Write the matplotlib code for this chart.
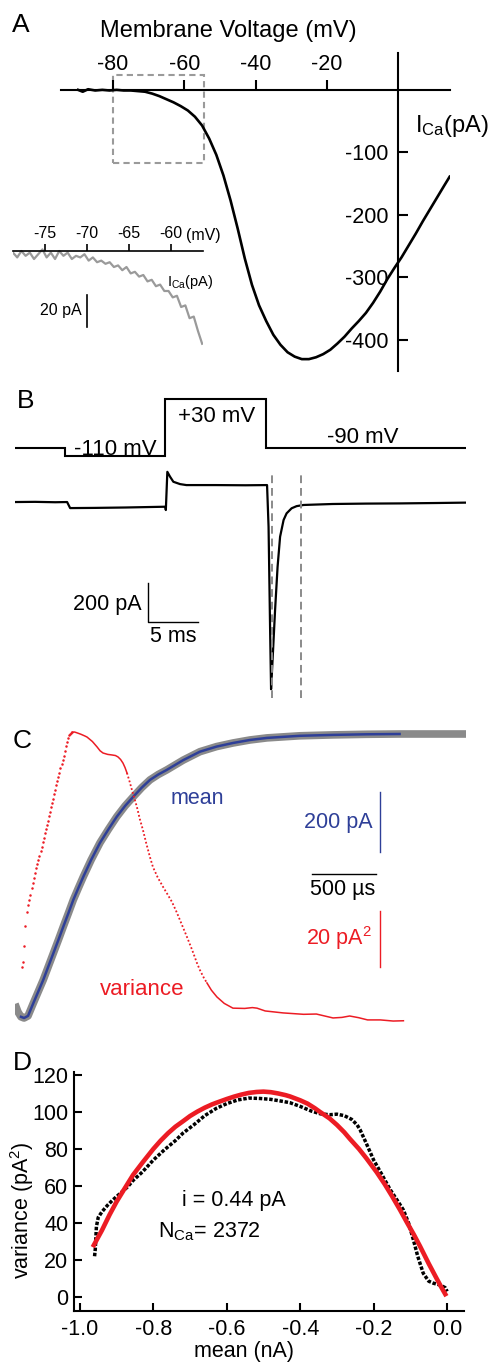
import numpy as np
import matplotlib.pyplot as plt
from matplotlib.patches import Rectangle

plt.rcParams['font.family'] = ['Liberation Sans', 'DejaVu Sans']
plt.rcParams['mathtext.fontset'] = 'custom'
plt.rcParams['mathtext.rm'] = 'Liberation Sans'
plt.rcParams['mathtext.it'] = 'Liberation Sans:italic'
plt.rcParams['axes.unicode_minus'] = False

# ---------------- A: I-V relation ----------------
iv_mv = [-89.8, -88.5, -87, -85, -83, -81, -79, -77, -75, -73, -71, -69, -67, -65,
         -63, -61, -59, -57, -55, -53, -51, -49, -47, -45, -43, -41, -39, -37, -35,
         -33, -31, -29, -27, -25, -23, -21, -19, -17, -15, -13, -11, -9, -7, -5, -3,
         -1, 1, 3, 5, 7, 9, 11, 13, 14.5]
iv_pa = [0, -3, 1, -1, 0, -1, 0, -1, -1, -2, -3, -6, -10, -15,
         -20, -26, -33, -43, -57, -78, -104, -137, -177, -222, -270, -312, -345, -370, -392,
         -408, -420, -427, -431, -431, -428, -423, -416, -406, -395, -382, -370, -357, -341, -323, -303,
         -285, -268, -249, -230, -210, -191, -172, -153, -139]
iv_ticks_mv = [-80, -60, -40, -20]
iv_ticks_pa = [-100, -200, -300, -400]

# inset: foot of the curve, raw trace
foot_mv = [-78.8, -78.3, -77.8, -77.3, -76.8, -76.3, -75.8, -75.3, -74.8, -74.3, -73.8, -73.3,
           -72.8, -72.3, -71.8, -71.3, -70.8, -70.3, -69.8, -69.3, -68.8, -68.3, -67.8, -67.3,
           -66.8, -66.3, -65.8, -65.3, -64.8, -64.3, -63.8, -63.3, -62.8, -62.3, -61.8, -61.3,
           -60.8, -60.3, -59.8, -59.3, -58.8, -58.3, -57.8, -57.3, -56.8, -56.3]
foot_pa = [-1, -4, 0, -3, -1, -5, -2, 1, -4, -1, -5, 0,
           -3, -1, -5, -3, -4, -2, -6, -4, -7, -6, -8, -7,
           -10, -9, -12, -10, -14, -13, -16, -15, -19, -18, -22, -21,
           -25, -25, -29, -28, -35, -34, -42, -41, -50, -58]
foot_ticks_mv = [-75, -70, -65, -60]
zoom_mv = (-80, -54.5)
zoom_pa = (-117, 24)

# ---------------- B: protocol and current ----------------
step_edges_ms = [0, 5, 15, 25, 45]
step_mv = [-90, -110, 30, -90]
trace_ms = [0, 2, 4, 5.2, 5.5, 8, 11, 14, 15.0, 15.05, 15.2, 15.47, 15.8, 16.47, 17.1, 20,
            23, 25.15, 25.3, 25.45, 25.55, 25.7, 25.95, 26.2, 26.45, 26.8, 27.1, 27.6, 28.1,
            28.8, 31.7, 35, 38.4, 42, 45]
trace_pa = [0, 1, -1, 0, -31, -30, -28, -25, -24, -41, 155, 130, 104, 92, 87, 87,
            86, 87, -127, -640, -960, -810, -554, -332, -178, -92, -58, -32, -21,
            -15, -10, -8, -7, -5, -3]
window_ms = [25.65, 28.54]

# ---------------- C: mean and variance ----------------
mean_ms = [-0.055, -0.031, -0.008, 0.016, 0.047, 0.088, 0.127, 0.166, 0.205, 0.245, 0.284,
           0.323, 0.362, 0.401, 0.44, 0.479, 0.54, 0.609, 0.675, 0.74, 0.805, 0.87, 0.935,
           1.0, 1.065, 1.13, 1.26, 1.39, 1.52, 1.648, 1.78, 1.914, 2.17, 2.43, 2.69, 2.95,
           3.2, 3.47]
mean_pa = [-900, -927, -943, -947, -940, -898, -859, -820, -776, -731, -687,
           -642, -598, -553, -514, -476, -420, -363, -318, -276, -240, -209, -179,
           -153, -135, -120, -87, -59, -42, -30, -20, -13, -6, -3, -1, 0,
           0, 0]
var_ms = [-0.002, 0.005, 0.016, 0.026, 0.037, 0.045, 0.055, 0.062, 0.076, 0.084, 0.094,
          0.104, 0.112, 0.120, 0.128, 0.136, 0.145, 0.153, 0.161, 0.169, 0.177, 0.186,
          0.194, 0.202, 0.210, 0.218, 0.227, 0.235, 0.243, 0.251, 0.259, 0.268, 0.276,
          0.284, 0.292, 0.300, 0.309, 0.317, 0.325, 0.333, 0.342, 0.350, 0.358, 0.366,
          0.374, 0.383, 0.391,
          0.41, 0.43, 0.46, 0.49, 0.508, 0.55, 0.586, 0.61, 0.633, 0.67, 0.703, 0.73,
          0.75, 0.77, 0.789, 0.805, 0.82,
          0.84, 0.859, 0.88, 0.898, 0.92, 0.945, 0.97, 1.0, 1.023, 1.06, 1.102, 1.14,
          1.172, 1.211, 1.25, 1.289, 1.33, 1.367, 1.39, 1.42, 1.445,
          1.48, 1.523, 1.58, 1.648, 1.74, 1.80, 1.836, 1.9, 2.04, 2.2, 2.3, 2.43, 2.5,
          2.56, 2.63, 2.70, 2.8, 2.9, 2.98]
var_pa2 = [19.4, 21.2, 26.8, 33.9, 39.0, 41.4, 43.2, 45.0, 47.5, 49.3, 51.1,
           52.9, 54.5, 56.0, 57.6, 59.1, 60.7, 62.3, 63.8, 65.4, 67.0, 68.5,
           70.1, 71.6, 73.2, 74.7, 76.3, 77.9, 79.4, 81.0, 82.5, 84.1, 85.6,
           87.2, 88.7, 90.3, 91.8, 93.3, 94.7, 96.5, 98.2, 99.7, 101.0, 102.0,
           102.6, 103.0, 103.1,
           103.2, 102.9, 102.4, 101.8, 101.4, 99.8, 97.9, 96.5, 95.7, 95.2, 95.0, 94.8,
           94.3, 93.4, 92.1, 90.5, 88.6,
           85.6, 82.5, 79.2, 76.4, 72.2, 68.2, 63.6, 58.5, 55.0, 51.3, 47.9, 45.0,
           42.5, 38.6, 34.3, 30.0, 25.3, 20.7, 18.2, 15.5, 13.6,
           11.0, 8.6, 6.3, 4.6, 4.5, 4.8, 4.6, 3.6, 2.9, 2.4, 2.5, 1.1, 1.3,
           1.8, 1.2, 0.4, 0.4, 0.0, 0.1]

# ---------------- D: variance vs mean ----------------
data_na = [-0.960, -0.958, -0.955, -0.950, -0.940, -0.925, -0.91, -0.89, -0.87, -0.855,
           -0.83, -0.80, -0.77, -0.74, -0.719, -0.69, -0.66, -0.628, -0.60, -0.57, -0.54,
           -0.51, -0.48, -0.45, -0.428, -0.40, -0.37, -0.345, -0.32, -0.30, -0.28, -0.26,
           -0.245, -0.237, -0.22, -0.20, -0.18, -0.155, -0.135, -0.119, -0.105, -0.092,
           -0.08, -0.065, -0.05, -0.037, -0.02, -0.005, 0.0]
data_var = [22, 26, 38, 43, 46, 49.5, 52.5, 56, 59.5, 63,
            67.5, 74, 79.5, 84.5, 88.6, 93, 98, 102, 104.5, 106.5, 107.5,
            107.3, 106.8, 105.8, 105, 103, 100.5, 99, 98.5, 98.8, 98, 96,
            93, 90.4, 83, 74, 67, 58, 52, 47, 40, 31,
            22, 12.8, 8.5, 7.4, 6.5, 5, 3]
fit_na = [-0.962, -0.94, -0.919, -0.90, -0.88, -0.855, -0.83, -0.80, -0.78, -0.76,
          -0.74, -0.719, -0.70, -0.68, -0.66, -0.64, -0.628, -0.60, -0.58, -0.56,
          -0.54, -0.519, -0.50, -0.48, -0.46, -0.44, -0.428, -0.40, -0.38, -0.36,
          -0.346, -0.32, -0.30, -0.28, -0.265, -0.24, -0.22, -0.192, -0.17, -0.15,
          -0.128, -0.11, -0.09, -0.074, -0.05, -0.03, -0.015, -0.005]
fit_var = [28, 36, 44.5, 51.5, 58, 66, 72.5, 80, 84.5, 88.5,
           92, 95, 97.8, 100.2, 102.3, 104.1, 105, 107, 108.3, 109.4,
           110.3, 110.8, 111, 110.7, 110, 109.1, 108.4, 106.3, 104.5, 102,
           100, 96.5, 93, 89, 85.5, 80, 75, 67.5, 61, 54.5,
           47, 40.5, 33.5, 27.5, 18, 10.5, 5, 1.5]
d_xticks = [-1.0, -0.8, -0.6, -0.4, -0.2, 0.0]
d_yticks = [0, 20, 40, 60, 80, 100, 120]

RED = '#ec1c24'
BLUE = '#2e3f98'
GREY = '#8a8a8a'

W, H = 494, 1362
fig = plt.figure(figsize=(W / 100, H / 100), dpi=100)


def box(x0, y0, x1, y1):
    # pixel box, origin top-left -> figure fraction
    return [x0 / W, 1 - y1 / H, (x1 - x0) / W, (y1 - y0) / H]


def ftext(x, y, s, **kw):
    kw.setdefault('va', 'baseline')
    fig.text(x / W, 1 - y / H, s, **kw)


# ---- panel A
axA = fig.add_axes(box(61, 53, 450, 371))
axA.patch.set_alpha(0)
axA.plot(iv_mv, iv_pa, color='black', lw=1.9)
axA.add_patch(Rectangle((zoom_mv[0], zoom_pa[0]), zoom_mv[1] - zoom_mv[0],
                        zoom_pa[1] - zoom_pa[0], fill=False, ec='#9a9a9a', lw=1.5,
                        ls=(0, (3, 2))))
axA.set_xlim(-94.6, 14.6)
axA.set_ylim(-450, 59)
axA.spines['bottom'].set_visible(False)
axA.spines['right'].set_visible(False)
axA.spines['top'].set_position(('data', 0))
axA.spines['left'].set_position(('data', 0))
for s in ['top', 'left']:
    axA.spines[s].set_linewidth(1.5)
axA.xaxis.set_ticks_position('top')
axA.set_xticks(iv_ticks_mv)
axA.set_yticks(iv_ticks_pa)
axA.tick_params(axis='x', direction='out', length=7, width=1.5, pad=4, labelsize=15.5)
axA.tick_params(axis='y', direction='in', length=7, width=1.5, pad=7, labelsize=15.5)

ftext(12, 32, 'A', fontsize=19)
ftext(228, 37, 'Membrane Voltage (mV)', fontsize=17, ha='center')
ftext(415, 132, r'I$_{\mathregular{Ca}}$(pA)', fontsize=17)

# inset
axI = fig.add_axes(box(13, 220, 203, 350))
axI.patch.set_alpha(0)
axI.plot(foot_mv, foot_pa, color='#9a9a9a', lw=1.6)
axI.set_xlim(-78.8, -56.2)
axI.set_ylim(-61.9, 19.4)
for s in ['bottom', 'left', 'right']:
    axI.spines[s].set_visible(False)
axI.spines['top'].set_position(('data', 0))
axI.spines['top'].set_linewidth(1.2)
axI.xaxis.set_ticks_position('top')
axI.set_xticks(foot_ticks_mv)
axI.set_yticks([])
axI.tick_params(axis='x', direction='out', length=5, width=1.2, pad=2, labelsize=11.5)
axI.plot([-70.0, -70.0], [-27.5, -47.5], color='black', lw=1.2)
ftext(203, 240, '(mV)', fontsize=11.5, ha='center')
ftext(167, 286, r'I$_{\mathregular{Ca}}$(pA)', fontsize=10.5)
ftext(82, 315, '20 pA', fontsize=11.5, ha='right')

# ---- panel B
axV = fig.add_axes(box(15, 390, 466, 465))
axV.stairs(step_mv, step_edges_ms, baseline=None, color='black', lw=1.5)
axV.set_xlim(0, 45)
axV.set_ylim(-131.7, 52)
axV.axis('off')

axB = fig.add_axes(box(15, 465, 466, 705))
axB.plot(trace_ms, trace_pa, color='black', lw=1.6)
for t in window_ms:
    axB.axvline(t, ymin=0.029, ymax=0.958, color=GREY, lw=1.4, ls=(0, (4, 2.5)))
axB.plot([13.27, 13.27, 18.27], [-415, -615, -615], color='black', lw=1.0)
axB.set_xlim(0, 45)
axB.set_ylim(-1041, 190)
axB.axis('off')

ftext(17, 408, 'B', fontsize=19)
ftext(115, 455, '-110 mV', fontsize=16, ha='center')
ftext(217, 422, '+30 mV', fontsize=16, ha='center')
ftext(363, 443, '-90 mV', fontsize=16, ha='center')
ftext(142, 610, '200 pA', fontsize=15.5, ha='right')
ftext(173, 642, '5 ms', fontsize=15.5, ha='center')

# ---- panel C
mean_ms_a = np.array(mean_ms)
mean_pa_a = np.array(mean_pa)
axC = fig.add_axes(box(15, 725, 466, 1030))
axC.plot(mean_ms_a, mean_pa_a, color=GREY, lw=5.5, solid_capstyle='butt')
blue = (mean_ms_a >= -0.008) & (mean_ms_a <= 2.95)
axC.plot(mean_ms_a[blue], mean_pa_a[blue], color=BLUE, lw=1.8)
axC.plot([2.266, 2.766], [-467, -467], color='black', lw=1.0)
axC.plot([2.797, 2.797], [-193, -393], color=BLUE, lw=1.0)
axC.set_xlim(-0.0547, 3.469)
axC.set_ylim(-987, 30)
axC.axis('off')

var_ms_a = np.array(var_ms)
var_a = np.array(var_pa2)
axCv = fig.add_axes(box(15, 725, 466, 1030), sharex=axC)
axCv.patch.set_alpha(0)
rise = var_ms_a <= 0.391
top = (var_ms_a >= 0.391) & (var_ms_a <= 0.82)
fall = (var_ms_a >= 0.82) & (var_ms_a <= 1.445)
tail = var_ms_a >= 1.445
axCv.plot(var_ms_a[rise], var_a[rise], 'o', color=RED, ms=1.8, mew=0)
axCv.plot(var_ms_a[top], var_a[top], color=RED, lw=1.1)
axCv.plot(var_ms_a[fall], var_a[fall], color=RED, lw=1.3, ls=(0, (1, 1.2)))
axCv.plot(var_ms_a[tail], var_a[tail], color=RED, lw=1.1)
axCv.plot([2.797, 2.797], [19.3, 39.3], color=RED, lw=1.0)
axCv.set_ylim(-3.2, 105.7)
axCv.axis('off')

ftext(13, 748, 'C', fontsize=19)
ftext(197, 804, 'mean', fontsize=15.5, ha='center', color=BLUE)
ftext(373, 828, '200 pA', fontsize=15.5, ha='right', color=BLUE)
ftext(343, 895, '500 µs', fontsize=15.5, ha='center')
ftext(372, 945, r'20 pA$^{\mathregular{2}}$', fontsize=15.5, ha='right', color=RED)
ftext(142, 995, 'variance', fontsize=16, ha='center', color=RED)

# ---- panel D
axD = fig.add_axes(box(74, 1072, 464, 1311))
axD.plot(data_na, data_var, color='black', lw=2.5, ls=(0, (1, 0.5)),
         dash_capstyle='butt')
axD.plot(fit_na, fit_var, color=RED, lw=3.3)
axD.set_xlim(-1.016, 0.046)
axD.set_ylim(-7.6, 121.6)
axD.spines['top'].set_visible(False)
axD.spines['right'].set_visible(False)
for s in ['left', 'bottom']:
    axD.spines[s].set_linewidth(1.5)
axD.set_xticks(d_xticks)
axD.set_xticklabels(['%.1f' % v for v in d_xticks])
axD.set_yticks(d_yticks)
axD.tick_params(direction='in', length=6, width=1.5, labelsize=15.5)
axD.tick_params(axis='x', pad=6)
axD.tick_params(axis='y', pad=4)
axD.text(-0.7227, 52.4, 'i = 0.44 pA', fontsize=15.5, va='center')
axD.text(-0.788, 35, r'N$_{\mathregular{Ca}}$= 2372', fontsize=15.5, va='center')

ftext(13, 1070, 'D', fontsize=19)
ftext(22, 1210, r'variance (pA$^{\mathregular{2}}$)', fontsize=15.5, rotation=90,
      ha='center', va='center')
ftext(244, 1357, 'mean (nA)', fontsize=15.5, ha='center')

fig.savefig('out.png', dpi=100)
